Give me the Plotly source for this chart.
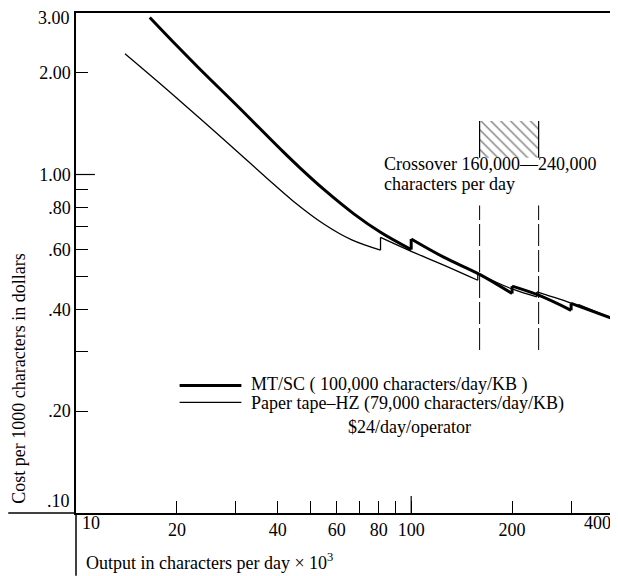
import plotly.graph_objects as go
import math

# ---- data (x in thousands of characters/day, y in $ per 1000 chars)
mt_x = [16.6, 20, 23.4, 30, 41.4, 46.4, 55, 67.6, 81, 100, 100, 125, 160, 200, 200, 240, 300, 300, 400]
mt_y = [2.91, 2.40, 2.05, 1.61, 1.17, 1.05, 0.902, 0.764, 0.675, 0.600, 0.645, 0.570, 0.507, 0.445, 0.468,
        0.44, 0.397, 0.416, 0.375]

pt_x = [14.0, 18.6, 23.4, 29.4, 36.9, 44.3, 55.0, 66.5, 81, 81, 100, 125, 158, 158, 200, 237, 237, 300,
        316, 316, 400]
pt_y = [2.275, 1.79, 1.466, 1.20, 0.98, 0.837, 0.713, 0.641, 0.598, 0.652, 0.593, 0.54, 0.487, 0.51, 0.459,
        0.435, 0.45, 0.417, 0.408, 0.413, 0.375]

crossover_x = [160, 240]
crossover_line_y = [0.303, 0.81]
hatch_y = [1.12, 1.44]

x_tickvals = [20, 40, 60, 80, 100, 200]
x_ticktext = ["20", "40", "60", "80", "100", "200"]
x_minor = [30, 50, 70, 90, 300]
y_tickvals = [0.2, 0.4, 0.6, 0.8, 1.0, 2.0]
y_ticktext = [".20", ".40", ".60", ".80", "1.00", "2.00"]
y_minor = [0.3, 0.5, 0.7, 0.9]

FONT = "Liberation Serif"
FS = 18

fig = go.Figure()

# hatched crossover box
fig.add_trace(go.Scatter(
    x=[crossover_x[0], crossover_x[1], crossover_x[1], crossover_x[0], crossover_x[0]],
    y=[hatch_y[0], hatch_y[0], hatch_y[1], hatch_y[1], hatch_y[0]],
    mode="lines", line=dict(width=0, color="rgba(0,0,0,0)"),
    fill="toself", fillcolor="white",
    fillpattern=dict(shape="\\", fgcolor="black", bgcolor="white", size=7, solidity=0.2),
    showlegend=False, hoverinfo="skip"))
for cx in crossover_x:
    fig.add_trace(go.Scatter(x=[cx, cx], y=hatch_y, mode="lines",
                             line=dict(color="black", width=1.2), showlegend=False, hoverinfo="skip"))
    fig.add_trace(go.Scatter(x=[cx, cx], y=crossover_line_y, mode="lines",
                             line=dict(color="black", width=1, dash="22px,4px"),
                             showlegend=False, hoverinfo="skip"))


def add_stepped_curve(xs, ys, width):
    """Smooth pieces between the jumps, straight vertical jumps (where x repeats)."""
    segs, cur = [], [0]
    for i in range(1, len(xs)):
        if xs[i] == xs[i - 1]:
            segs.append(cur)
            cur = [i]
            fig.add_trace(go.Scatter(x=[xs[i - 1], xs[i]], y=[ys[i - 1], ys[i]], mode="lines",
                                     line=dict(color="black", width=width),
                                     showlegend=False, hoverinfo="skip"))
        else:
            cur.append(i)
    segs.append(cur)
    for s in segs:
        fig.add_trace(go.Scatter(x=[xs[i] for i in s], y=[ys[i] for i in s], mode="lines",
                                 line=dict(color="black", width=width, shape="spline", smoothing=1),
                                 showlegend=False))


add_stepped_curve(pt_x, pt_y, 1.3)
add_stepped_curve(mt_x, mt_y, 3)

fig.update_xaxes(type="log", range=[1, math.log10(400)], showgrid=False, zeroline=False,
                 showline=True, linecolor="black", linewidth=1.5, mirror=True,
                 ticks="inside", ticklen=12, tickwidth=1, tickcolor="black",
                 tickvals=x_tickvals, ticktext=x_ticktext,
                 minor=dict(tickvals=x_minor, ticks="inside", ticklen=12, tickwidth=1, tickcolor="black"),
                 tickfont=dict(family=FONT, size=FS, color="black"))
fig.update_yaxes(type="log", range=[-1, math.log10(3)], showgrid=False, zeroline=False,
                 showline=True, linecolor="black", linewidth=1.5, mirror=True,
                 ticks="inside", ticklen=12, tickwidth=1, tickcolor="black",
                 tickvals=y_tickvals, ticktext=y_ticktext,
                 minor=dict(tickvals=y_minor, ticks="inside", ticklen=12, tickwidth=1, tickcolor="black"),
                 tickfont=dict(family=FONT, size=FS, color="black"))

# the page body has an 8px margin: compensate so the plot sits where the reference's does
OFF = 8
W, H = 618 - OFF, 576 - OFF
L, R, T, B = 76 - OFF, 3, 11 - OFF, 63
pw, ph = W - L - R, H - T - B


def px_x(p):
    return (p - OFF - L) / pw


def px_y(p):
    return (H - B - (p - OFF)) / ph


shapes = [
    # axis extensions (cross-style axes)
    dict(type="line", xref="paper", yref="paper", x0=-L / pw, x1=0, y0=0, y1=0,
         line=dict(color="black", width=1.5)),
    dict(type="line", xref="paper", yref="paper", x0=0, x1=0, y0=0, y1=-B / ph,
         line=dict(color="black", width=1.5)),
    # longer ticks at 1.00 and 100
    dict(type="line", xref="paper", yref="y", x0=0, x1=19 / pw, y0=1.0, y1=1.0,
         line=dict(color="black", width=1.2)),
    dict(type="line", xref="x", yref="paper", x0=100, x1=100, y0=0, y1=17 / ph,
         line=dict(color="black", width=1.2)),
    # legend samples
    dict(type="line", xref="paper", yref="paper", x0=px_x(180), x1=px_x(242),
         y0=px_y(385), y1=px_y(385), line=dict(color="black", width=3)),
    dict(type="line", xref="paper", yref="paper", x0=px_x(180), x1=px_x(242),
         y0=px_y(402), y1=px_y(402), line=dict(color="black", width=1.3)),
]


def ann(text, x, y, xanchor="left", yanchor="middle", angle=0, size=FS):
    return dict(text=text, xref="paper", yref="paper", x=x, y=y, xanchor=xanchor, yanchor=yanchor,
                showarrow=False, textangle=angle, font=dict(family=FONT, size=size, color="black"))


annotations = [
    ann("10", px_x(80), px_y(523)),
    ann("400", px_x(615), px_y(523), xanchor="right"),
    ann("3.00", px_x(72), px_y(16), xanchor="right"),
    ann(".10", px_x(72), px_y(501), xanchor="right"),
    ann("Output in characters per day × 10<sup>3</sup>", px_x(84), px_y(562)),
    ann("Cost per 1000 characters in dollars", px_x(18), px_y(378), xanchor="center", angle=-90),
    ann("Crossover 160,000—240,000", px_x(383), px_y(163)),
    ann("characters per day", px_x(383), px_y(183)),
    ann("MT/SC ( 100,000 characters/day/KB )", px_x(250), px_y(384)),
    ann("Paper tape–HZ (79,000 characters/day/KB)", px_x(250), px_y(403)),
    ann("$24/day/operator", px_x(347), px_y(427)),
]

fig.update_layout(width=W, height=H, margin=dict(l=L, r=R, t=T, b=B),
                  plot_bgcolor="white", paper_bgcolor="white",
                  shapes=shapes, annotations=annotations, showlegend=False,
                  font=dict(family=FONT, size=FS, color="black"))

fig.write_html("out.html")
